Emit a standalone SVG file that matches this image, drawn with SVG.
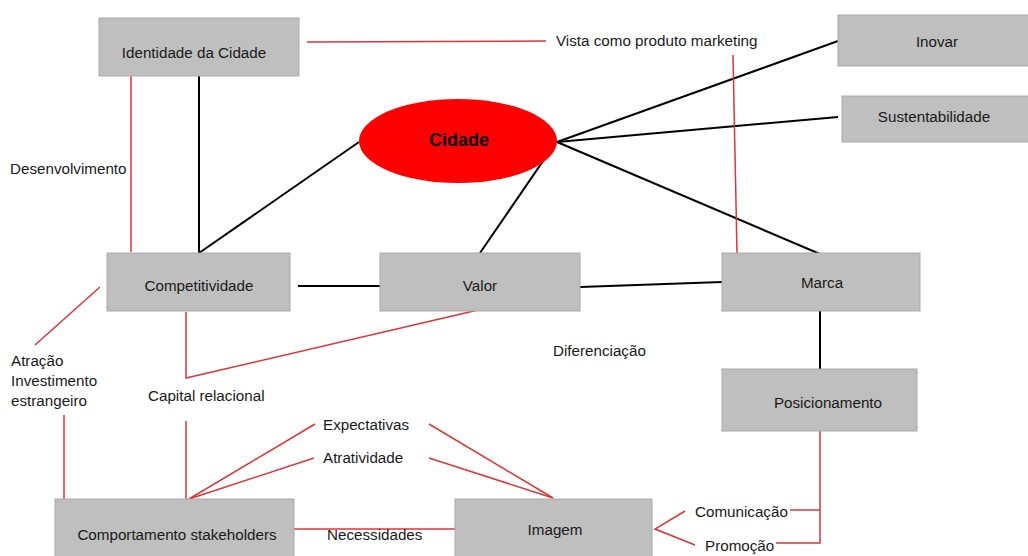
<svg xmlns="http://www.w3.org/2000/svg" width="1028" height="556" viewBox="0 0 1028 556">
<style>
.box{fill:#bfbfbf;stroke:#a9a9a9;stroke-width:1}
.t{font-family:"Liberation Sans",Arial,sans-serif;font-size:15.2px;fill:#1a1a1a}
.c{text-anchor:middle}
.k{stroke:#000;stroke-width:2;fill:none}
.r{stroke:#d9363a;stroke-width:1.5;fill:none}
</style>
<rect width="1028" height="556" fill="#fff"/>
<g id="connectors">
<line class="k" x1="199" y1="76" x2="199" y2="253"/>
<line class="k" x1="199" y1="253" x2="359" y2="142"/>
<line class="k" x1="557" y1="142" x2="838" y2="41"/>
<line class="k" x1="557" y1="142" x2="838" y2="117"/>
<line class="k" x1="557" y1="142" x2="820" y2="254"/>
<line class="k" x1="480" y1="253" x2="554" y2="145"/>
<line class="k" x1="298" y1="286" x2="380" y2="286"/>
<line class="k" x1="580" y1="287" x2="722" y2="282"/>
<line class="k" x1="820" y1="311" x2="820" y2="369"/>
<line class="r" x1="131" y1="76" x2="131" y2="252"/>
<line class="r" x1="307" y1="42" x2="546" y2="41"/>
<line class="r" x1="733" y1="55" x2="737" y2="253"/>
<line class="r" x1="100" y1="287" x2="35" y2="345"/>
<line class="r" x1="64" y1="415" x2="64" y2="499"/>
<polyline class="r" points="186,312 186,378 478,310"/>
<line class="r" x1="186" y1="421" x2="186" y2="499"/>
<line class="r" x1="189" y1="499" x2="315" y2="424"/>
<line class="r" x1="189" y1="499" x2="314" y2="458"/>
<line class="r" x1="429" y1="424" x2="553" y2="498"/>
<line class="r" x1="429" y1="458" x2="553" y2="498"/>
<line class="r" x1="294" y1="529" x2="455" y2="529"/>
<polyline class="r" points="685,511 655,529 695,545"/>
<line class="r" x1="790" y1="510" x2="820" y2="510"/>
<polyline class="r" points="820,431 820,543 776,543" stroke-width="1"/>
</g>
<g id="identidade"><rect class="box" x="99" y="18" width="200" height="58"/><text class="t c" x="194" y="58">Identidade da Cidade</text></g>
<g id="inovar"><rect class="box" x="838" y="15" width="195" height="51"/><text class="t c" x="937" y="47">Inovar</text></g>
<g id="sustentabilidade"><rect class="box" x="842" y="96" width="191" height="46"/><text class="t c" x="934" y="122">Sustentabilidade</text></g>
<g id="cidade"><ellipse cx="458" cy="141" rx="99" ry="42" fill="#ff0000"/><text x="459" y="146" text-anchor="middle" font-family="Liberation Sans,Arial,sans-serif" font-size="18" font-weight="bold" fill="#000">Cidade</text></g>
<g id="competitividade"><rect class="box" x="107" y="253" width="183" height="58"/><text class="t c" x="199" y="291">Competitividade</text></g>
<g id="valor"><rect class="box" x="380" y="253" width="200" height="58"/><text class="t c" x="480" y="291">Valor</text></g>
<g id="marca"><rect class="box" x="722" y="253" width="198" height="58"/><text class="t c" x="822" y="288">Marca</text></g>
<g id="posicionamento"><rect class="box" x="722" y="369" width="195" height="62"/><text class="t c" x="828" y="408">Posicionamento</text></g>
<g id="comportamento"><rect class="box" x="55" y="499" width="239" height="60"/><text class="t c" x="177" y="540">Comportamento stakeholders</text></g>
<g id="imagem"><rect class="box" x="455" y="499" width="197" height="60"/><text class="t c" x="555" y="535">Imagem</text></g>
<g id="labels">
<text class="t" x="10" y="174">Desenvolvimento</text>
<text class="t" x="556" y="46">Vista como produto marketing</text>
<text class="t" x="11" y="366">Atração</text>
<text class="t" x="11" y="386">Investimento</text>
<text class="t" x="11" y="406">estrangeiro</text>
<text class="t" x="148" y="401">Capital relacional</text>
<text class="t" x="553" y="356">Diferenciação</text>
<text class="t" x="323" y="430">Expectativas</text>
<text class="t" x="323" y="463">Atratividade</text>
<text class="t" x="327" y="540">Necessidades</text>
<text class="t" x="695" y="517">Comunicação</text>
<text class="t" x="705" y="551">Promoção</text>
</g>
</svg>
